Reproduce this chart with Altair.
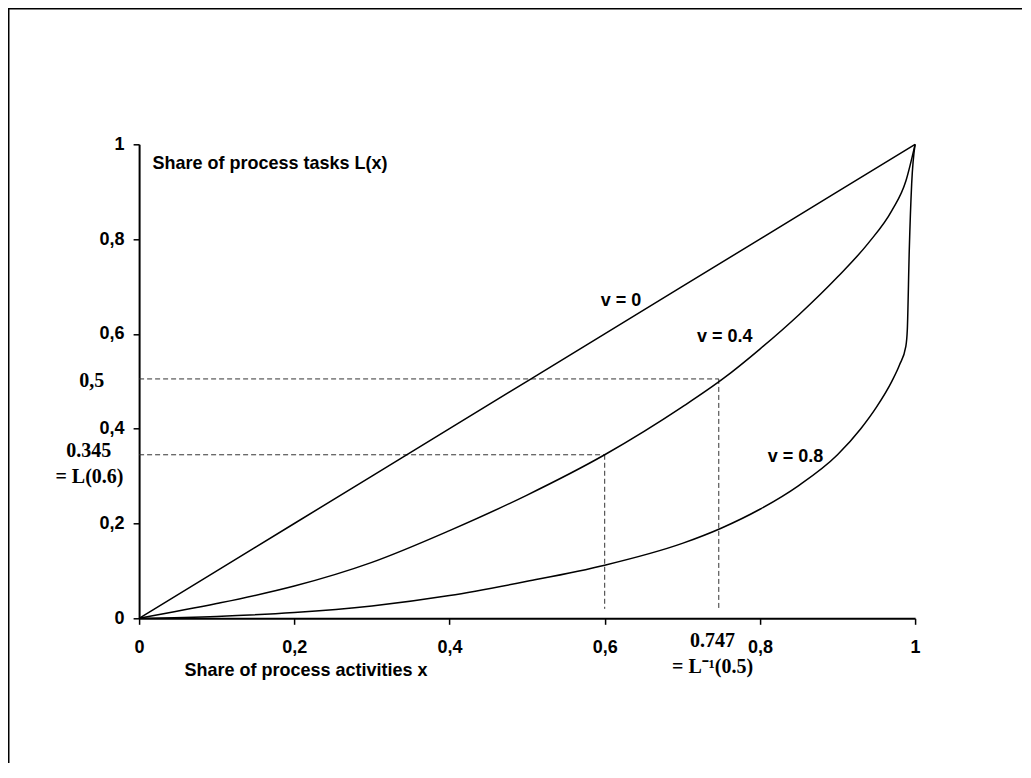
import altair as alt
import pandas as pd

# ---- values ----
v0_x = [0.0, 0.2, 0.4, 0.6, 0.8, 1.0]
v0_y = [0.0, 0.2, 0.4, 0.6, 0.8, 1.0]

v04_x = [0.0, 0.1, 0.2, 0.3, 0.4, 0.5, 0.6, 0.7, 0.753, 0.8, 0.85, 0.9, 0.94, 0.97, 0.988, 1.0]
v04_y = [0.0, 0.031, 0.068, 0.118, 0.185, 0.26, 0.345, 0.446, 0.506, 0.568, 0.64, 0.72, 0.792, 0.86, 0.922, 1.0]

v08_x = [0.0, 0.1, 0.2, 0.3, 0.4, 0.5, 0.6, 0.7, 0.75, 0.8, 0.85, 0.9, 0.93, 0.95, 0.97,
         0.98, 0.988, 0.990, 0.9925, 0.9956, 1.0]
v08_y = [0.0, 0.004, 0.012, 0.026, 0.048, 0.078, 0.112, 0.158, 0.19, 0.23, 0.28, 0.345, 0.4,
         0.445, 0.5, 0.535, 0.573, 0.61, 0.777, 0.917, 1.0]

series_names = ["v = 0", "v = 0.4", "v = 0.8"]

# dashed guide segments (x, y) -> (x2, y2)
guide_x = [0.0, 0.747, 0.0, 0.6]
guide_y = [0.505, 0.505, 0.345, 0.345]
guide_x2 = [0.747, 0.747, 0.6, 0.6]
guide_y2 = [0.505, 0.02, 0.345, 0.02]

# curve labels
curve_label_text = ["v = 0", "v = 0.4", "v = 0.8"]
curve_label_x = [0.595, 0.719, 0.810]
curve_label_y = [0.669, 0.593, 0.340]

# serif annotations
note_text = ["0,5", "0.345", "= L(0.6)", "0.747", "= L\u207b\u00b9(0.5)"]
note_x = [-0.061, -0.065, -0.064, 0.739, 0.739]
note_y = [0.488, 0.341, 0.286, -0.0605, -0.1154]

x_ticks = [0, 0.2, 0.4, 0.6, 0.8, 1]
y_ticks = [0, 0.2, 0.4, 0.6, 0.8, 1]

# ---- tables ----
rows = []
for name, xs, ys in zip(series_names, [v0_x, v04_x, v08_x], [v0_y, v04_y, v08_y]):
    for i, (a, b) in enumerate(zip(xs, ys)):
        rows.append({"series": name, "x": a, "y": b, "i": i})
curves = pd.DataFrame(rows)
guides = pd.DataFrame({"x": guide_x, "y": guide_y, "x2": guide_x2, "y2": guide_y2})
curve_labels = pd.DataFrame({"t": curve_label_text, "x": curve_label_x, "y": curve_label_y})
notes = pd.DataFrame({"t": note_text, "x": note_x, "y": note_y})

SANS = "Liberation Sans"
SERIF = "Liberation Serif"
LABEL_EXPR = "replace(format(datum.value, '~g'), '.', ',')"

xscale = alt.Scale(domain=[0, 1], nice=False, zero=False)
yscale = alt.Scale(domain=[0, 1], nice=False, zero=False)

frame = alt.Chart(pd.DataFrame({"a": [0]})).mark_rect(
    fillOpacity=0, stroke="black", strokeWidth=2
).encode(
    x=alt.value(-130.6), x2=alt.value(900), y=alt.value(-135.8), y2=alt.value(660)
)

lines = alt.Chart(curves).mark_line(
    color="black", strokeWidth=1.5, interpolate="monotone"
).encode(
    x=alt.X("x:Q", scale=xscale, axis=alt.Axis(
        values=x_ticks, labelExpr=LABEL_EXPR,
        title="Share of process activities x", titleX=45, titleY=57,
        titleAlign="left", titleBaseline="alphabetic", titleAnchor="start",
        labelPadding=14, tickSize=6, labelFlush=False)),
    y=alt.Y("y:Q", scale=yscale, axis=alt.Axis(
        values=y_ticks, labelExpr=LABEL_EXPR,
        title="Share of process tasks L(x)", titleAngle=0, titleX=13, titleY=24,
        titleAlign="left", titleBaseline="alphabetic", titleAnchor="start",
        labelPadding=9, tickSize=6, labelFlush=False)),
    detail="series:N",
    order="i:Q",
)

dashes = alt.Chart(guides).mark_rule(
    color="#333333", strokeWidth=1, strokeDash=[5, 3]
).encode(
    x=alt.X("x:Q", scale=xscale), y=alt.Y("y:Q", scale=yscale),
    x2="x2:Q", y2="y2:Q",
)

clabels = alt.Chart(curve_labels).mark_text(
    font=SANS, fontWeight="bold", fontSize=18, align="left", baseline="middle", color="black"
).encode(x=alt.X("x:Q", scale=xscale), y=alt.Y("y:Q", scale=yscale), text="t:N")

nlabels = alt.Chart(notes).mark_text(
    font=SERIF, fontWeight="bold", fontSize=20, align="center", baseline="alphabetic", color="black"
).encode(x=alt.X("x:Q", scale=xscale), y=alt.Y("y:Q", scale=yscale), text="t:N")

chart = alt.layer(frame, dashes, lines, clabels, nlabels).properties(
    width=776, height=474,
    autosize=alt.AutoSizeParams(type="none"),
    padding={"left": 131.1, "top": 136.3, "right": 107, "bottom": 145},
).configure_view(stroke=None).configure_axis(
    grid=False, domainColor="black", domainWidth=2, tickColor="black", tickWidth=1.5,
    labelFont=SANS, labelFontWeight="bold", labelFontSize=18, labelColor="black",
    titleFont=SANS, titleFontWeight="bold", titleFontSize=18, titleColor="black",
)

chart.save("out.html", embed_options={"renderer": "svg", "actions": False})
